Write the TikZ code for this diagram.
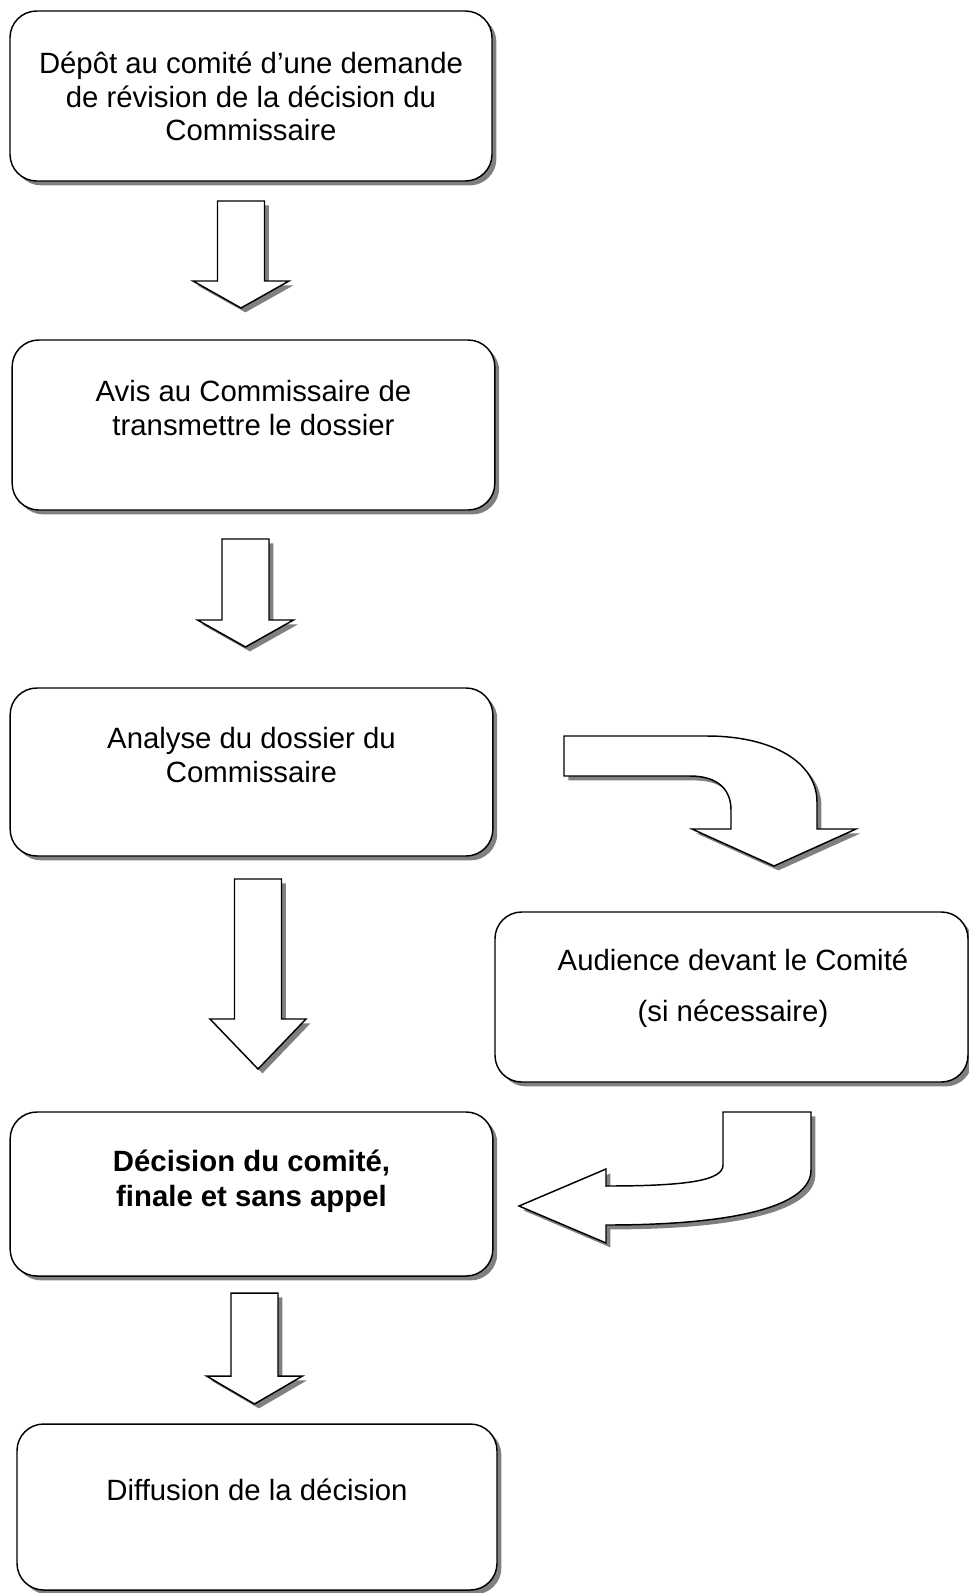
\documentclass[tikz,border=0pt]{standalone}
\usepackage{fontspec}
\setmainfont{Liberation Sans}
\usetikzlibrary{shadows}

\newcommand\downblock[4]{%
  \draw [blockarrow] ({#1-23.5},#2) -- ({#1+23.5},#2) -- ({#1+23.5},#3) -- ({#1+48},#3)
    -- (#1,#4) -- ({#1-48},#3) -- ({#1-23.5},#3) -- cycle;
}

\begin{document}
\begin{tikzpicture}[x=0.75pt, y=-0.75pt,
    shade/.style={drop shadow={shadow xshift=3.3pt, shadow yshift=-3.3pt, fill=black!50, opacity=1}},
    box/.style={draw, line width=1.1pt, fill=white, rounded corners=20pt, shade},
    blockarrow/.style={draw, line width=1.1pt, fill=white, shade},
    txt/.style={align=center, font=\fontsize{22}{25}\selectfont}]
    \useasboundingbox (0, 0) rectangle (969, 1593);

    % boxes
    \node [box, minimum width=361.5pt, minimum height=127.5pt] (depot) at (251, 96) {};
    \node [box, minimum width=362pt, minimum height=127.5pt] (avis) at (253.5, 425) {};
    \node [box, minimum width=362pt, minimum height=126pt] (analyse) at (251.5, 772) {};
    \node [box, minimum width=354.75pt, minimum height=127.5pt] (audience) at (731.5, 997) {};
    \node [box, minimum width=362pt, minimum height=123pt] (decision) at (251.5, 1194) {};
    \node [box, minimum width=360pt, minimum height=124.5pt] (diffusion) at (257, 1507) {};

    % texts
    \node [txt] (depot-t) at (251, 96.5) {Dépôt au comité d’une demande\\de révision de la décision du\\Commissaire};
    \node [txt] (avis-t) at (253.5, 408) {Avis au Commissaire de\\transmettre le dossier};
    \node [txt] (analyse-t) at (251.5, 755) {Analyse du dossier du\\Commissaire};
    \node [txt, font=\fontsize{22}{38}\selectfont] (audience-t) at (733, 988.5) {Audience devant le Comité\\(si nécessaire)};
    \node [txt, font=\fontsize{22}{26.5}\selectfont\bfseries] (decision-t) at (251.5, 1181) {Décision du comité,\\finale et sans appel};
    \node [txt] (diffusion-t) at (257, 1490) {Diffusion de la décision};

    % straight arrows
    \downblock{241}{201}{281}{308}
    \downblock{245.5}{539}{620}{647}
    \downblock{258}{879}{1019}{1069}
    \downblock{254.5}{1293}{1376}{1404}

    % turning arrows
    \draw [blockarrow] (564, 736) -- (707, 736) .. controls (772, 736) and (817, 762) .. (817, 802)
      -- (817, 829) -- (856, 829) -- (774, 866) -- (692, 829) -- (731, 829) -- (731, 810)
      .. controls (731, 788) and (716, 776) .. (690, 776) -- (564, 776) -- cycle;

    \draw [blockarrow] (723, 1112) -- (811, 1112) -- (811, 1170)
      .. controls (811, 1205) and (740, 1225) .. (606, 1225) -- (606, 1243) -- (519, 1206)
      -- (606, 1169) -- (606, 1186) .. controls (690, 1186) and (723, 1180) .. (723, 1165) -- cycle;
  \end{tikzpicture}
\end{document}
